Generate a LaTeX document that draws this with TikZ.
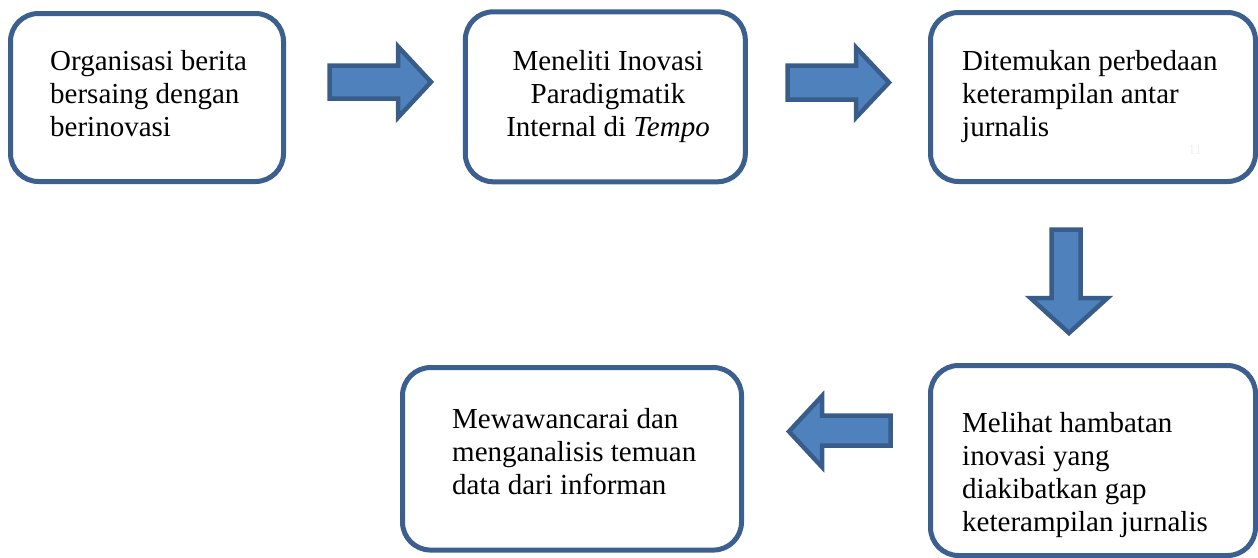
\documentclass[tikz,border=0pt]{standalone}
\usepackage{fontspec}
\setmainfont{Liberation Serif}
\definecolor{boxline}{HTML}{3B5F8F}
\definecolor{arrowfill}{HTML}{4F81BD}
\definecolor{arrowline}{HTML}{385D8A}
\tikzset{
  box/.style={draw=boxline, line width=5pt, rounded corners=28pt, fill=white, inner sep=0pt},
  txt/.style={inner sep=0pt, font=\fontsize{29}{33}\selectfont, text=black},
  blockarrow/.style={draw=arrowline, fill=arrowfill, line width=4.5pt, line join=miter}
}
\begin{document}
\begin{tikzpicture}[x=1pt,y=-1pt]
\useasboundingbox (0,0) rectangle (1258,557);
% boxes
\node[box, minimum width=273pt, minimum height=168pt] (b1) at (147,97.5) {};
\node[box, minimum width=280pt, minimum height=170pt] (b2) at (605.3,96.8) {};
\node[box, minimum width=325pt, minimum height=169pt] (b3) at (1093,97) {};
\node[box, minimum width=339pt, minimum height=182.5pt] (b4) at (572,458.8) {};
\node[box, minimum width=325pt, minimum height=190pt] (b5) at (1093,460.5) {};
% texts
\node[txt, anchor=north west, align=left] (t1) at (50,46.9) {\strut Organisasi berita\\bersaing dengan\\berinovasi};
\node[txt, anchor=north, align=center] (t2) at (608,46.9) {\strut Meneliti Inovasi\\Paradigmatik\\Internal di \textit{Tempo}};
\node[txt, anchor=north west, align=left] (t3) at (962,46.9) {\strut Ditemukan perbedaan\\keterampilan antar\\jurnalis};
\node[txt, anchor=north west, align=left] (t4) at (452,404.9) {\strut Mewawancarai dan\\menganalisis temuan\\data dari informan};
\node[txt, anchor=north west, align=left] (t5) at (962,408.9) {\strut Melihat hambatan\\inovasi yang\\diakibatkan gap\\keterampilan jurnalis};
\node[inner sep=0pt, font=\fontsize{14}{16}\selectfont, text=black!6] (pg) at (1195,150) {11};
% block arrows
\draw[blockarrow] (329.5,65.5) -- (398,65.5) -- (398,46.5) -- (431,82) -- (398,117.5) -- (398,98.5) -- (329.5,98.5) -- cycle;
\draw[blockarrow] (787.5,65.5) -- (856,65.5) -- (856,47.5) -- (889,82.5) -- (856,117.5) -- (856,99.5) -- (787.5,99.5) -- cycle;
\draw[blockarrow] (1051.5,229.5) -- (1080.5,229.5) -- (1080.5,298) -- (1107.5,298) -- (1069,333) -- (1030.5,298) -- (1051.5,298) -- cycle;
\draw[blockarrow] (890.5,415.5) -- (822,415.5) -- (822,396) -- (789,431.5) -- (822,467) -- (822,445.5) -- (890.5,445.5) -- cycle;
\end{tikzpicture}
\end{document}
